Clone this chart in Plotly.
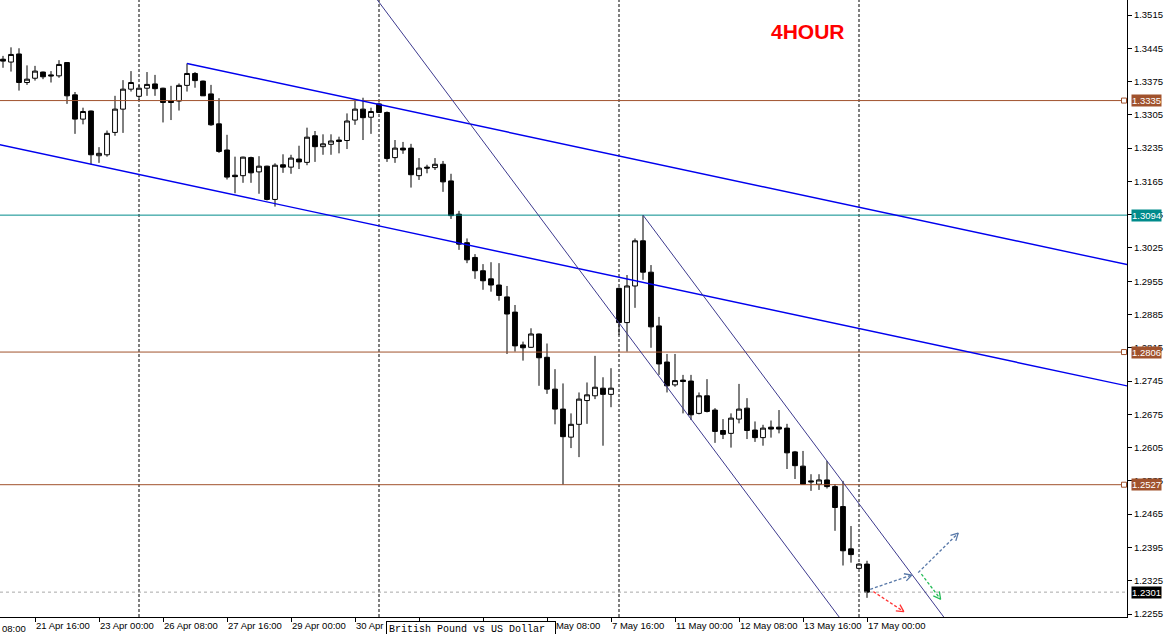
import math
import plotly.graph_objects as go

# ---------------- data (GBPUSD, H4) ----------------
opens = [1.3422, 1.3416, 1.3433, 1.3373, 1.3382, 1.3395, 1.3389, 1.3387, 1.3415, 1.3347,
         1.3296, 1.3313, 1.3219, 1.3221, 1.3268, 1.3317, 1.3359, 1.3344, 1.3361, 1.3370,
         1.3361, 1.3334, 1.3334, 1.3367, 1.3392, 1.3376, 1.3349, 1.3286, 1.3231, 1.3178,
         1.3177, 1.3215, 1.3185, 1.3197, 1.3127, 1.3200, 1.3195, 1.3212, 1.3205, 1.3261,
         1.3238, 1.3243, 1.3252, 1.3251, 1.3294, 1.3317, 1.3300, 1.3328, 1.3310, 1.3215,
         1.3235, 1.3235, 1.3177, 1.3195, 1.3194, 1.3201, 1.3166, 1.3096, 1.3036, 1.3005,
         1.2977, 1.2960, 1.2947, 1.2922, 1.2890, 1.2821, 1.2816, 1.2844, 1.2795, 1.2728,
         1.2686, 1.2627, 1.2654, 1.2704, 1.2714, 1.2730, 1.2717, 1.2940, 1.2868, 1.2945,
         1.3040, 1.2974, 1.2861, 1.2785, 1.2737, 1.2747, 1.2745, 1.2677, 1.2714, 1.2684,
         1.2641, 1.2635, 1.2665, 1.2688, 1.2642, 1.2626, 1.2648, 1.2648, 1.2646, 1.2596,
         1.2566, 1.2535, 1.2528, 1.2537, 1.2523, 1.2481, 1.2392, 1.2351, 1.2360]
highs = [1.3429, 1.3447, 1.3445, 1.3409, 1.3408, 1.3396, 1.3397, 1.3420, 1.3416, 1.3353,
         1.3320, 1.3314, 1.3237, 1.3272, 1.3345, 1.3378, 1.3397, 1.3368, 1.3395, 1.3389,
         1.3362, 1.3366, 1.3371, 1.3413, 1.3395, 1.3377, 1.3368, 1.3340, 1.3263, 1.3217,
         1.3217, 1.3217, 1.3218, 1.3198, 1.3203, 1.3222, 1.3221, 1.3240, 1.3278, 1.3271,
         1.3264, 1.3264, 1.3259, 1.3308, 1.3334, 1.3341, 1.3320, 1.3331, 1.3312, 1.3252,
         1.3248, 1.3244, 1.3214, 1.3200, 1.3214, 1.3208, 1.3181, 1.3103, 1.3045, 1.3012,
         1.2991, 1.2995, 1.2993, 1.2945, 1.2905, 1.2828, 1.2856, 1.2845, 1.2824, 1.2770,
         1.2740, 1.2677, 1.2721, 1.2742, 1.2798, 1.2753, 1.2772, 1.2942, 1.2968, 1.3045,
         1.3094, 1.2989, 1.2880, 1.2802, 1.2802, 1.2758, 1.2758, 1.2721, 1.2749, 1.2688,
         1.2665, 1.2677, 1.2739, 1.2709, 1.2660, 1.2653, 1.2662, 1.2684, 1.2655, 1.2598,
         1.2598, 1.2549, 1.2549, 1.2577, 1.2528, 1.2535, 1.2440, 1.2362, 1.2367]
lows = [1.3404, 1.3396, 1.3356, 1.3368, 1.3377, 1.3380, 1.3373, 1.3383, 1.3328, 1.3265,
        1.3285, 1.3201, 1.3204, 1.3217, 1.3261, 1.3267, 1.3354, 1.3336, 1.3345, 1.3345,
        1.3289, 1.3294, 1.3314, 1.3354, 1.3362, 1.3345, 1.3282, 1.3225, 1.3169, 1.3140,
        1.3162, 1.3162, 1.3139, 1.3125, 1.3112, 1.3183, 1.3181, 1.3191, 1.3199, 1.3206,
        1.3221, 1.3221, 1.3224, 1.3233, 1.3284, 1.3252, 1.3265, 1.3309, 1.3206, 1.3204,
        1.3223, 1.3152, 1.3168, 1.3182, 1.3189, 1.3143, 1.3086, 1.3021, 1.2993, 1.2960,
        1.2937, 1.2933, 1.2914, 1.2802, 1.2807, 1.2788, 1.2815, 1.2735, 1.2718, 1.2654,
        1.2527, 1.2604, 1.2585, 1.2655, 1.2707, 1.2609, 1.2690, 1.2842, 1.2807, 1.2899,
        1.2958, 1.2815, 1.2758, 1.2721, 1.2733, 1.2677, 1.2663, 1.2675, 1.2679, 1.2615,
        1.2623, 1.2605, 1.2656, 1.2623, 1.2617, 1.2609, 1.2626, 1.2635, 1.2560, 1.2539,
        1.2527, 1.2514, 1.2516, 1.2519, 1.2430, 1.2357, 1.2363, 1.2350, 1.2289]
closes = [1.3418, 1.3432, 1.3373, 1.3380, 1.3397, 1.3385, 1.3387, 1.3411, 1.3345, 1.3296,
          1.3312, 1.3221, 1.3224, 1.3266, 1.3317, 1.3359, 1.3373, 1.3361, 1.3369, 1.3360,
          1.3331, 1.3331, 1.3367, 1.3392, 1.3377, 1.3345, 1.3284, 1.3228, 1.3174, 1.3175,
          1.3216, 1.3183, 1.3197, 1.3127, 1.3199, 1.3195, 1.3214, 1.3206, 1.3258, 1.3238,
          1.3244, 1.3250, 1.3249, 1.3292, 1.3317, 1.3299, 1.3312, 1.3310, 1.3213, 1.3235,
          1.3231, 1.3179, 1.3193, 1.3193, 1.3201, 1.3164, 1.3093, 1.3033, 1.3000, 1.2977,
          1.2956, 1.2947, 1.2925, 1.2886, 1.2819, 1.2815, 1.2844, 1.2794, 1.2728, 1.2686,
          1.2628, 1.2654, 1.2707, 1.2716, 1.2732, 1.2717, 1.2730, 1.2868, 1.2945, 1.3040,
          1.2974, 1.2859, 1.2781, 1.2735, 1.2746, 1.2744, 1.2674, 1.2714, 1.2681, 1.2639,
          1.2633, 1.2667, 1.2686, 1.2641, 1.2626, 1.2646, 1.2644, 1.2644, 1.2594, 1.2567,
          1.2528, 1.2533, 1.2537, 1.2523, 1.2479, 1.2388, 1.2380, 1.2360, 1.2301]
bars = list(range(len(opens)))

# time-axis labels (the two under the symbol box are hidden in the original)
tick_bars = [4, 12, 20, 28, 36, 44, 52, 60, 68, 76, 84, 92, 100, 108]
tick_labels = ["21 Apr 16:00", "23 Apr 00:00", "26 Apr 08:00", "27 Apr 16:00",
               "29 Apr 00:00", "30 Apr 08:00", "", "",
               "6 May 08:00", "7 May 16:00", "11 May 00:00", "12 May 08:00",
               "13 May 16:00", "17 May 00:00"]
price_ticks = [1.2255, 1.2325, 1.2395, 1.2465, 1.2535, 1.2605, 1.2675, 1.2745, 1.2815,
               1.2885, 1.2955, 1.3025, 1.3095, 1.3165, 1.3235, 1.3305, 1.3375, 1.3445, 1.3515]
week_separators = [17, 47, 77, 107]

brown_levels = [1.3335, 1.2806, 1.2527]
teal_level = 1.3094
bid_price = 1.2301

# channel (blue): anchors (bar, price) and slope per bar
chan_upper_anchor = (23, 1.3413)
chan_lower_anchor = (11, 1.3201)
chan_slope = -0.00036
# steep channel (navy)
steep_upper_anchor = (80, 1.3094)
steep_lower_anchor = (80, 1.2800)
steep_slope = -0.0022485

# projection arrows: (bar0, price0, bar1, price1, colour)
arrows = [
    (108.4, 1.2307, 113.6, 1.2337, "#5878a8"),
    (114.4, 1.2342, 119.4, 1.2425, "#5878a8"),
    (114.8, 1.2339, 117.2, 1.2286, "#22bb55"),
    (108.8, 1.2302, 112.6, 1.2260, "#ff3333"),
]

# ---------------- layout constants ----------------
W, H = 1168, 634
ML, MR, MT, MB = 0, 41, 0, 17
X_RANGE = [-0.375, 140.5]
Y_RANGE = [1.224869, 1.354655]
PW, PH = W - ML - MR, H - MT - MB
sx = PW / (X_RANGE[1] - X_RANGE[0])
sy = PH / (Y_RANGE[1] - Y_RANGE[0])

BROWN = "#a0522d"
TEAL = "#008b8b"
FONT = "Liberation Sans"

fig = go.Figure()

fig.add_trace(go.Candlestick(
    x=bars, open=opens, high=highs, low=lows, close=closes,
    increasing=dict(line=dict(color="black", width=1), fillcolor="white"),
    decreasing=dict(line=dict(color="black", width=1), fillcolor="black"),
    whiskerwidth=0, hoverinfo="skip", showlegend=False,
))


def line_trace(xs, ys, color, width=1, dash="solid"):
    fig.add_trace(go.Scatter(x=xs, y=ys, mode="lines", hoverinfo="skip", showlegend=False,
                             line=dict(color=color, width=width, dash=dash)))


right_end = X_RANGE[1] - 3 / sx
# horizontal levels
for lv in brown_levels:
    line_trace([X_RANGE[0], right_end], [lv, lv], BROWN, 1)
    fig.add_trace(go.Scatter(x=[right_end], y=[lv], mode="markers", hoverinfo="skip",
                             showlegend=False, cliponaxis=False,
                             marker=dict(symbol="square", size=5, color="white",
                                         line=dict(color=BROWN, width=1))))
line_trace([X_RANGE[0], X_RANGE[1]], [teal_level, teal_level], TEAL, 1)
line_trace([X_RANGE[0], X_RANGE[1]], [bid_price, bid_price], "#a8a8a8", 1, "dot")

# blue channel
ux0, uy0 = chan_upper_anchor
line_trace([ux0, X_RANGE[1] + 1], [uy0, uy0 + chan_slope * (X_RANGE[1] + 1 - ux0)], "#0000ee", 1.4)
lx0, ly0 = chan_lower_anchor
line_trace([-5, X_RANGE[1] + 1],
           [ly0 + chan_slope * (-5 - lx0), ly0 + chan_slope * (X_RANGE[1] + 1 - lx0)], "#0000ee", 1.4)

# steep channel
bx0, by0 = steep_upper_anchor
line_trace([bx0, 125], [by0, by0 + steep_slope * (125 - bx0)], "#3d3a8e", 1)
ax0, ay0 = steep_lower_anchor
line_trace([40, 125], [ay0 + steep_slope * (40 - ax0), ay0 + steep_slope * (125 - ax0)], "#3d3a8e", 1)

# arrows
for (xa, ya, xb, yb, col) in arrows:
    line_trace([xa, xb], [ya, yb], col, 1.3, "3px,2px")
    dx, dy = (xb - xa) * sx, (yb - ya) * sy
    L = math.hypot(dx, dy)
    ux, uy = -dx / L, -dy / L
    hx, hy = [], []
    for s in (1, -1):
        a = math.radians(28) * s
        rx = ux * math.cos(a) - uy * math.sin(a)
        ry = ux * math.sin(a) + uy * math.cos(a)
        hx.append(xb + rx * 8 / sx)
        hy.append(yb + ry * 8 / sy)
    line_trace([hx[0], xb, hx[1]], [hy[0], yb, hy[1]], col, 1.3)

shapes = []
for b in week_separators:
    shapes.append(dict(type="line", xref="x", yref="paper", x0=b, x1=b, y0=0, y1=1,
                       layer="below", line=dict(color="black", width=1, dash="3px,2px")))

annotations = []
# price labels on the right axis
for lv, col in [(brown_levels[0], BROWN), (teal_level, TEAL), (brown_levels[1], BROWN),
                (brown_levels[2], BROWN), (bid_price, "black")]:
    annotations.append(dict(xref="paper", yref="y", x=1, y=lv, xanchor="left", yanchor="middle",
                            xshift=4, text=f"{lv:.4f}", showarrow=False, bgcolor=col,
                            borderpad=0, font=dict(family=FONT, size=9.5, color="white")))
annotations.append(dict(xref="paper", yref="paper", x=808 / PW, y=1 - 31 / PH, text="<b>4HOUR</b>",
                        xanchor="center", yanchor="middle",
                        showarrow=False, font=dict(family=FONT, size=21, color="#ff0000")))
annotations.append(dict(xref="paper", yref="paper", x=0, y=-4 / PH, xanchor="left", yanchor="top",
                        text="08:00", showarrow=False, font=dict(family=FONT, size=9.5, color="black")))
annotations.append(dict(xref="paper", yref="paper", x=386 / PW, y=-4 / PH, xanchor="left",
                        yanchor="top", text="British Pound vs US Dollar", showarrow=False,
                        bgcolor="white", bordercolor="black", borderwidth=1, borderpad=2,
                        width=164, align="left",
                        font=dict(family="Liberation Mono", size=10, color="black")))

fig.update_layout(
    width=W, height=H, margin=dict(l=ML, r=MR, t=MT, b=MB, autoexpand=False),
    paper_bgcolor="white", plot_bgcolor="white", showlegend=False,
    boxgap=0.4, boxgroupgap=0,
    shapes=shapes, annotations=annotations,
    xaxis=dict(range=X_RANGE, showgrid=False, zeroline=False, showline=True, linecolor="black",
               linewidth=1, ticks="outside", ticklen=4, tickcolor="black", tickangle=0,
               tickvals=tick_bars, ticktext=tick_labels, ticklabelposition="outside right",
               tickfont=dict(family=FONT, size=9.5, color="black"), automargin=False,
               rangeslider=dict(visible=False), fixedrange=True),
    yaxis=dict(range=Y_RANGE, side="right", showgrid=False, zeroline=False, showline=True,
               linecolor="black", linewidth=1, ticks="outside", ticklen=4, tickcolor="black",
               tickvals=price_ticks, ticktext=[f"{p:.4f}" for p in price_ticks], automargin=False,
               tickfont=dict(family=FONT, size=9.5, color="black"), fixedrange=True),
)

fig.write_html("out.html", config={"displayModeBar": False},
               post_script="document.body.style.margin='0px';document.body.style.overflow='hidden';")
